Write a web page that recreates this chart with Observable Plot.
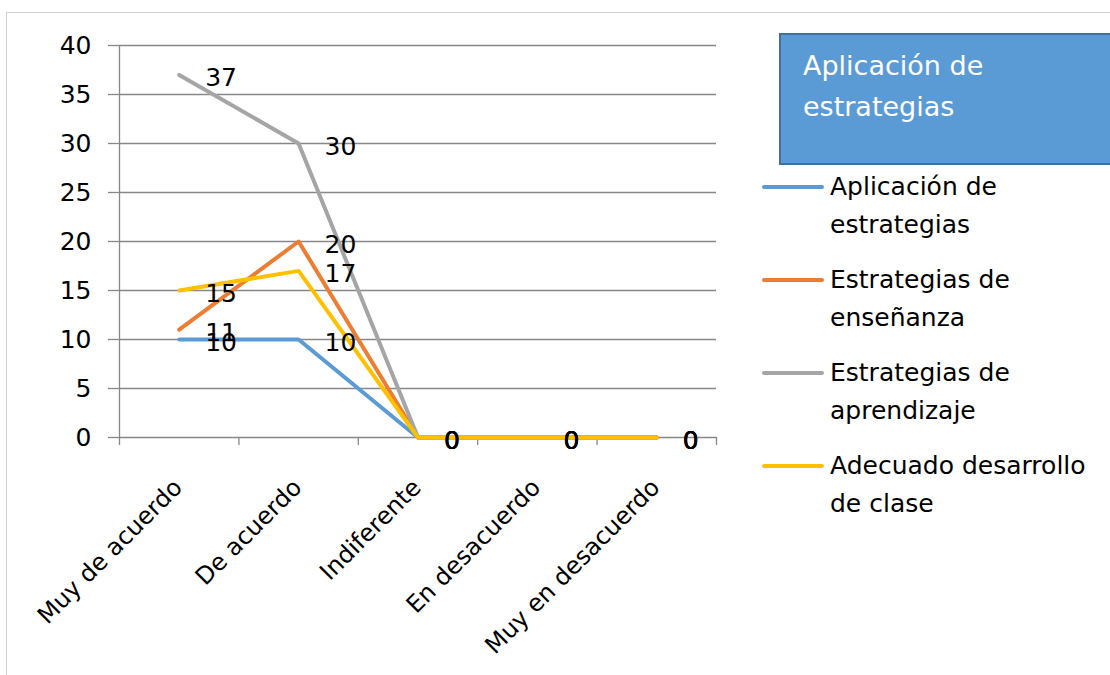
<!DOCTYPE html>
<html><head><meta charset="utf-8">
<script src="https://cdn.jsdelivr.net/npm/d3@7"></script>
<script src="https://cdn.jsdelivr.net/npm/@observablehq/plot@0.6"></script>
<style>
html,body{margin:0;padding:0;background:#fff;}
#wrap{position:relative;width:1110px;height:675px;overflow:hidden;font-family:"DejaVu Sans",sans-serif;}
#frame{position:absolute;left:6px;top:12px;width:1120px;height:680px;border:1px solid #d0d0d0;}
#chart{position:absolute;left:0;top:0;}
#titlebox{position:absolute;left:779px;top:33px;width:360px;height:128px;background:#5B9BD5;border:2px solid #41719C;}
.tline{position:absolute;left:803px;color:#fff;font-size:27px;line-height:27px;white-space:nowrap;}
.swatch{position:absolute;left:762px;width:62px;height:4px;border-radius:2px;}
.lline{position:absolute;left:830px;color:#000;font-size:25px;line-height:25px;white-space:nowrap;}
</style></head><body><div id="wrap"><div id="frame"></div><div id="chart"></div><div id="titlebox"></div></div>
<script>
const categories = ["Muy de acuerdo","De acuerdo","Indiferente","En desacuerdo","Muy en desacuerdo"];
const seriesNames = ["Aplicación de estrategias","Estrategias de enseñanza","Estrategias de aprendizaje","Adecuado desarrollo de clase"];
const seriesColors = ["#5B9BD5","#ED7D31","#A5A5A5","#FFC000"];
const aplicacion = [10,10,0,0,0];
const ensenanza = [11,20,0,0,0];
const aprendizaje = [37,30,0,0,0];
const adecuado = [15,17,0,0,0];
const yTicks = [0,5,10,15,20,25,30,35,40];
const legendLines = [["Aplicación de","estrategias"],["Estrategias de","enseñanza"],["Estrategias de","aprendizaje"],["Adecuado desarrollo","de clase"]];
const titleLines = ["Aplicación de","estrategias"];

const allSeries = [aplicacion, ensenanza, aprendizaje, adecuado];
const rows = [];
allSeries.forEach((vals, s) => vals.forEach((v, i) => rows.push({series: seriesNames[s], i, value: v})));
const boundaries = d3.range(categories.length + 1).map(k => k - 0.5);
const gridColor = "#878787";

const chart = Plot.plot({
  width: 1110, height: 675,
  marginLeft: 119, marginRight: 394, marginTop: 45, marginBottom: 238,
  style: {fontFamily: '"DejaVu Sans", sans-serif', fontSize: "25px", background: "transparent", overflow: "visible"},
  x: {type: "linear", domain: [-0.5, categories.length - 0.5]},
  y: {domain: [0, 40]},
  color: {domain: seriesNames, range: seriesColors},
  marks: [
    Plot.gridY(yTicks, {stroke: gridColor, strokeOpacity: 1, strokeWidth: 1.3}),
    Plot.axisY({ticks: yTicks, tickSize: 11, tickPadding: 17, stroke: gridColor, strokeWidth: 1.3, fill: "#000", fontSize: 25, label: null}),
    Plot.ruleX([-0.5], {stroke: gridColor, strokeWidth: 1.3}),
    Plot.axisX({ticks: boundaries, tickSize: 8, tickFormat: () => "", stroke: gridColor, strokeWidth: 1.3, label: null}),
    Plot.text(categories, {x: (d, i) => i, y: () => 0, text: d => d, rotate: -45, textAnchor: "end", dx: -1, dy: 46, fontSize: 24, fill: "#000"}),
    Plot.line(rows, {x: "i", y: "value", z: "series", stroke: "series", strokeWidth: 4, strokeLinejoin: "round"}),
    Plot.text(rows, {x: "i", y: "value", text: d => String(d.value), textAnchor: "start", dx: 26, dy: 3, fontSize: 25, fill: "#000"})
  ]
});
document.getElementById("chart").appendChild(chart);

const wrap = document.getElementById("wrap");
titleLines.forEach((t, k) => {
  const el = document.createElement("div");
  el.className = "tline"; el.textContent = t;
  el.style.top = (52 + k * 41) + "px";
  wrap.appendChild(el);
});
seriesNames.forEach((name, s) => {
  const cy = 187 + s * 93;
  const sw = document.createElement("div");
  sw.className = "swatch"; sw.style.background = seriesColors[s];
  sw.style.top = (cy - 2) + "px";
  wrap.appendChild(sw);
  legendLines[s].forEach((t, k) => {
    const el = document.createElement("div");
    el.className = "lline"; el.textContent = t;
    el.style.top = (cy - 13 + k * 38) + "px";
    wrap.appendChild(el);
  });
});
</script>
</body></html>
